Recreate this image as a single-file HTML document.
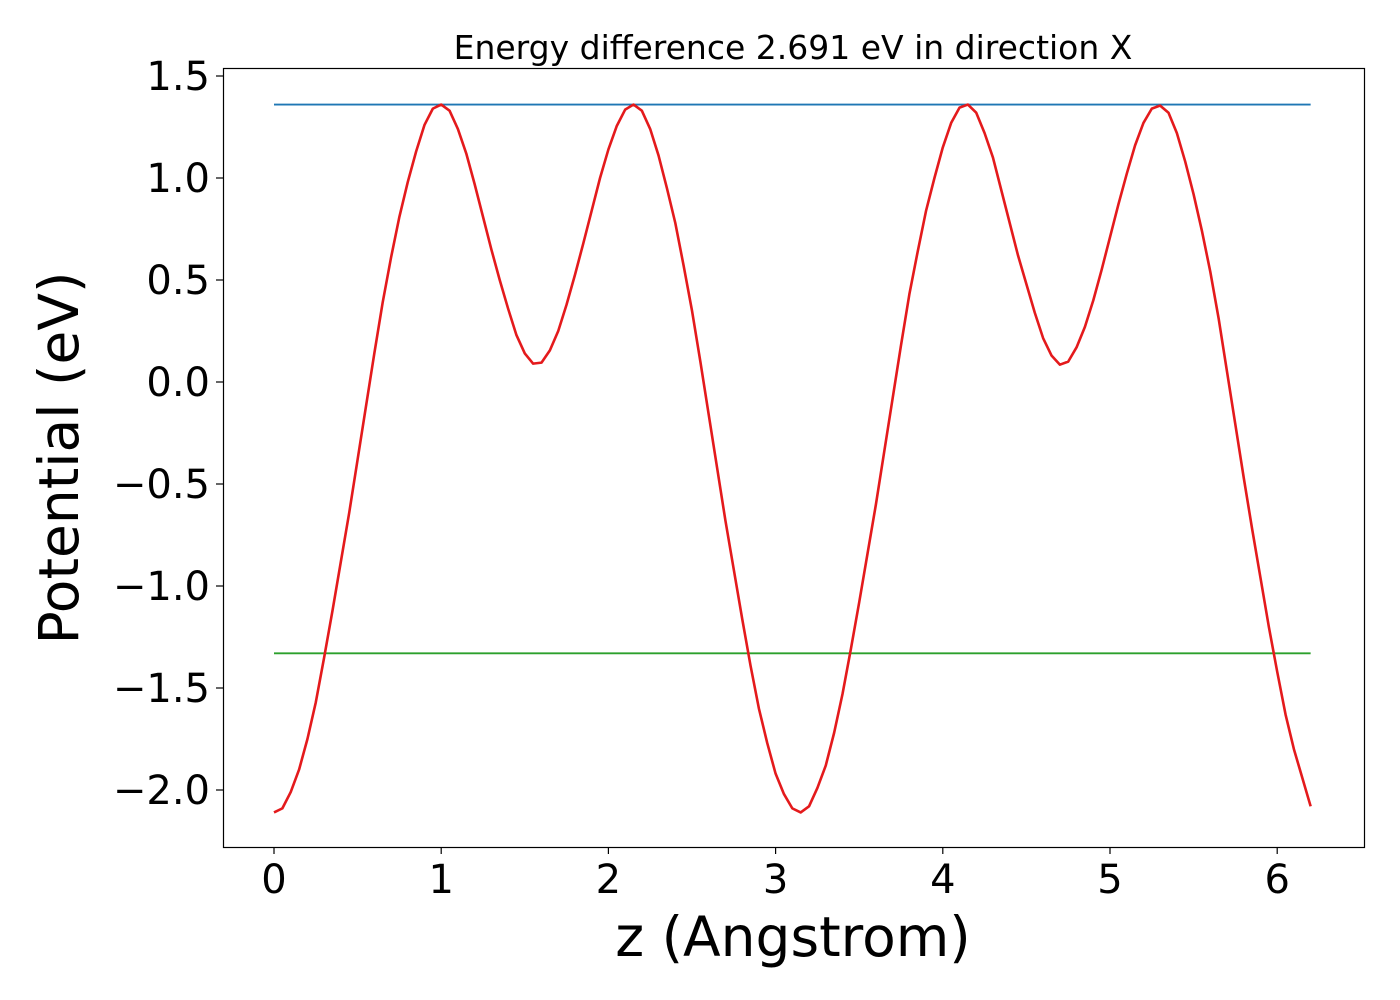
<!DOCTYPE html>
<html><head><meta charset="utf-8"><style>
html,body{margin:0;padding:0;background:#fff;}
svg{display:block;font-family:"DejaVu Sans","Liberation Sans",sans-serif;}
</style></head><body>
<svg id="chart" width="1400" height="1000" viewBox="0 0 1400 1000" xmlns="http://www.w3.org/2000/svg">
<rect x="0" y="0" width="1400" height="1000" fill="#fff"/>
<text x="793" y="59" text-anchor="middle" font-size="33">Energy difference 2.691 eV in direction X</text>
<g id="plot"></g>
<rect x="223.5" y="68.5" width="1141" height="779" fill="none" stroke="#000" stroke-width="1.2"/>
<text x="793" y="956" text-anchor="middle" font-size="55">z (Angstrom)</text>
<text transform="translate(78,458) rotate(-90)" text-anchor="middle" font-size="55">Potential (eV)</text>
</svg>
<script>
const zValues = [0,0.05,0.1,0.15,0.2,0.25,0.3,0.35,0.4,0.45,0.5,0.55,0.6,0.65,0.7,0.75,0.8,0.85,0.9,0.95,1.0,1.05,1.1,1.15,1.2,1.25,1.3,1.35,1.4,1.45,1.5,1.55,1.6,1.65,1.7,1.75,1.8,1.85,1.9,1.95,2.0,2.05,2.1,2.15,2.2,2.25,2.3,2.35,2.4,2.45,2.5,2.55,2.6,2.65,2.7,2.75,2.8,2.85,2.9,2.95,3.0,3.05,3.1,3.15,3.2,3.25,3.3,3.35,3.4,3.45,3.5,3.55,3.6,3.65,3.7,3.75,3.8,3.85,3.9,3.95,4.0,4.05,4.1,4.15,4.2,4.25,4.3,4.35,4.4,4.45,4.5,4.55,4.6,4.65,4.7,4.75,4.8,4.85,4.9,4.95,5.0,5.05,5.1,5.15,5.2,5.25,5.3,5.35,5.4,5.45,5.5,5.55,5.6,5.65,5.7,5.75,5.8,5.85,5.9,5.95,6.0,6.05,6.1,6.15,6.2];
const potential = [-2.11,-2.09,-2.01,-1.90,-1.75,-1.57,-1.35,-1.12,-0.88,-0.64,-0.38,-0.12,0.14,0.39,0.61,0.81,0.98,1.13,1.26,1.34,1.36,1.33,1.24,1.12,0.97,0.81,0.65,0.50,0.36,0.23,0.14,0.09,0.095,0.155,0.25,0.38,0.525,0.68,0.84,1.0,1.14,1.255,1.335,1.36,1.33,1.24,1.11,0.95,0.78,0.57,0.35,0.10,-0.16,-0.42,-0.68,-0.92,-1.16,-1.39,-1.60,-1.77,-1.92,-2.02,-2.09,-2.11,-2.08,-1.99,-1.88,-1.72,-1.53,-1.31,-1.08,-0.84,-0.60,-0.34,-0.08,0.18,0.43,0.64,0.84,1.0,1.15,1.27,1.345,1.36,1.32,1.22,1.10,0.94,0.78,0.62,0.48,0.34,0.215,0.13,0.085,0.10,0.17,0.27,0.40,0.55,0.71,0.87,1.02,1.16,1.27,1.34,1.355,1.32,1.22,1.08,0.92,0.74,0.54,0.31,0.05,-0.21,-0.47,-0.72,-0.96,-1.20,-1.42,-1.63,-1.80,-1.94,-2.08];
const maxLevel = 1.36;
const minLevel = -1.33;
const levelSpan = [0, 6.2];
const xTicks = [0,1,2,3,4,5,6];
const xTickLabels = ["0","1","2","3","4","5","6"];
const yTicks = [1.5,1.0,0.5,0.0,-0.5,-1.0,-1.5,-2.0];
const yTickLabels = ["1.5","1.0","0.5","0.0","\u22120.5","\u22121.0","\u22121.5","\u22122.0"];

const NS = "http://www.w3.org/2000/svg";
const xScale = v => 274 + v * 167.2;
const yScale = v => 382 - v * 204;
const plot = document.getElementById('plot');
function mk(tag, attrs){const e=document.createElementNS(NS,tag);for(const k in attrs)e.setAttribute(k,attrs[k]);return e;}

xTicks.forEach((t,i)=>{
  const g = mk('g',{});
  
  
  g.appendChild(mk('line',{x1:xScale(t),x2:xScale(t),y1:847,y2:854,stroke:'#000','stroke-width':1.2}));
  const tx = mk('text',{x:xScale(t),y:893,'text-anchor':'middle','font-size':40});
  tx.textContent = xTickLabels[i];
  g.appendChild(tx);
  plot.appendChild(g);
});
yTicks.forEach((t,i)=>{
  const g = mk('g',{});
  
  
  g.appendChild(mk('line',{x1:216,x2:223,y1:yScale(t),y2:yScale(t),stroke:'#000','stroke-width':1.2}));
  const tx = mk('text',{x:210,y:yScale(t)+14,'text-anchor':'end','font-size':40});
  tx.textContent = yTickLabels[i];
  g.appendChild(tx);
  plot.appendChild(g);
});

const maxLine = mk('line',{x1:xScale(levelSpan[0]),x2:xScale(levelSpan[1]),y1:yScale(maxLevel),y2:yScale(maxLevel),stroke:'#1f77b4','stroke-width':1.8});


plot.appendChild(maxLine);
const minLine = mk('line',{x1:xScale(levelSpan[0]),x2:xScale(levelSpan[1]),y1:yScale(minLevel),y2:yScale(minLevel),stroke:'#2ca02c','stroke-width':1.8});


plot.appendChild(minLine);

const pts = zValues.map((z,i)=>xScale(z).toFixed(2)+','+yScale(potential[i]).toFixed(2)).join(' ');
const curve = mk('polyline',{points:pts,fill:'none',stroke:'#e41a1c','stroke-width':2.6,'stroke-linejoin':'round'});


plot.appendChild(curve);
</script>
</body></html>
